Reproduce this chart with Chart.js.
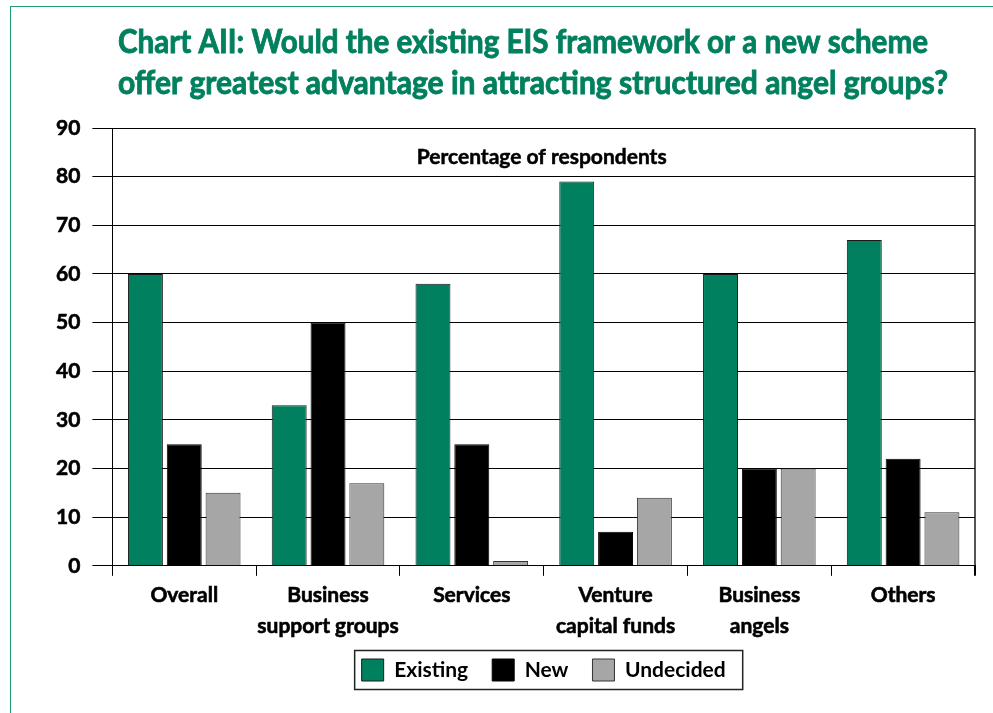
<!DOCTYPE html>
<html lang="en">
<head>
    <meta charset="UTF-8">
    <title>Chart AII</title>
    <script src="https://cdn.jsdelivr.net/npm/chart.js"></script>
    <style>
        body {
            margin: 0;
            background-color: #fff;
        }

        .frame {
            position: absolute;
            left: 10px;
            top: 6px;
            right: 0;
            bottom: 0;
            border-left: 1px solid #1f9c6e;
            border-top: 1px solid #1f9c6e;
        }

        canvas {
            position: absolute;
            left: 0;
            top: 0;
        }
    </style>
</head>
<body>
    <div class="frame"></div>
    <canvas id="grafico" width="993" height="713"></canvas>

    <script>
        var titulo = [
            'Chart AII: Would the existing EIS framework or a new scheme',
            'offer greatest advantage in attracting structured angel groups?'
        ];
        var larguraTitulo = [810, 830];
        var subtitulo = 'Percentage of respondents';

        var categorias = [
            ['Overall'],
            ['Business', 'support groups'],
            ['Services'],
            ['Venture', 'capital funds'],
            ['Business', 'angels'],
            ['Others']
        ];
        var existente = [60, 33, 58, 79, 60, 67];
        var novo = [25, 50, 25, 7, 20, 22];
        var indeciso = [15, 17, 1, 14, 20, 11];

        var escalaMin = 0;
        var escalaMax = 90;
        var escalaPasso = 10;

        var verde = '#00805e';
        var fonte = { family: 'Lato', weight: 'bold', size: 21 };

        var pluginTitulo = {
            id: 'titulo',
            afterLayout: function (chart) {
                // sobe a legenda para perto dos rotulos do eixo x
                chart.legend.top -= 11;
                chart.legend.bottom -= 11;
            },
            afterDraw: function (chart) {
                var ctx = chart.ctx;

                // titulo em duas linhas, comprimido na horizontal
                ctx.save();
                ctx.font = 'bold 33px Lato';
                ctx.fillStyle = verde;
                ctx.strokeStyle = verde;
                ctx.lineWidth = 0.9;
                ctx.textAlign = 'left';
                ctx.textBaseline = 'alphabetic';
                var bases = [53, 94];
                for (var i = 0; i < titulo.length; i++) {
                    var fator = larguraTitulo[i] / ctx.measureText(titulo[i]).width;
                    ctx.save();
                    ctx.translate(118, 0);
                    ctx.scale(fator, 1);
                    ctx.fillText(titulo[i], 0, bases[i]);
                    ctx.strokeText(titulo[i], 0, bases[i]);
                    ctx.restore();
                }
                ctx.restore();

                // texto dentro da area do grafico
                var area = chart.chartArea;
                ctx.save();
                ctx.font = 'bold 21px Lato';
                ctx.fillStyle = '#000';
                ctx.strokeStyle = '#000';
                ctx.lineWidth = 0.5;
                ctx.textAlign = 'center';
                ctx.fillText(subtitulo, (area.left + area.right) / 2 - 2, area.top + 29);
                ctx.strokeText(subtitulo, (area.left + area.right) / 2 - 2, area.top + 29);
                ctx.restore();

                // moldura da legenda
                var caixas = chart.legend.legendHitBoxes;
                if (caixas && caixas.length) {
                    var prim = caixas[0];
                    var ult = caixas[caixas.length - 1];
                    var x0 = prim.left - 7;
                    var x1 = ult.left + ult.width + 17;
                    var cy = prim.top + prim.height / 2;
                    ctx.save();
                    ctx.strokeStyle = '#222';
                    ctx.lineWidth = 1.5;
                    ctx.strokeRect(x0, cy - 19.5, x1 - x0, 39);
                    ctx.restore();
                }
            }
        };

        var contexto = document.getElementById('grafico').getContext('2d');
        var grafico = new Chart(contexto, {
            type: 'bar',
            data: {
                labels: categorias,
                datasets: [
                    {
                        label: 'Existing',
                        data: existente,
                        backgroundColor: verde,
                        borderColor: '#1a1a1a',
                        borderWidth: 1
                    },
                    {
                        label: 'New',
                        data: novo,
                        backgroundColor: '#000',
                        borderColor: '#000',
                        borderWidth: 1
                    },
                    {
                        label: 'Undecided',
                        data: indeciso,
                        backgroundColor: '#a6a6a6',
                        borderColor: '#333',
                        borderWidth: 1
                    }
                ]
            },
            options: {
                responsive: false,
                animation: false,
                categoryPercentage: 0.81,
                barPercentage: 0.9,
                layout: {
                    padding: { top: 128, left: 44, right: 18, bottom: 11 }
                },
                plugins: {
                    tooltip: { enabled: false },
                    title: { display: false },
                    legend: {
                        position: 'bottom',
                        fullSize: false,
                        labels: {
                            boxWidth: 22,
                            boxHeight: 22,
                            padding: 24,
                            color: '#000',
                            font: fonte
                        }
                    }
                },
                scales: {
                    x: {
                        grid: {
                            offset: true,
                            drawOnChartArea: true,
                            // so a ultima linha (borda direita) aparece dentro da area
                            color: function (c) {
                                return c.type === 'scale' ? '#555' : 'rgba(0,0,0,0)';
                            },
                            lineWidth: function (c) {
                                return c.type === 'scale' ? 2 : 1;
                            },
                            tickColor: '#000',
                            tickLength: 10
                        },
                        border: { display: true, color: '#000', width: 1 },
                        ticks: {
                            autoSkip: false,
                            color: '#000',
                            textStrokeColor: '#000',
                            textStrokeWidth: 0.6,
                            padding: 4,
                            maxRotation: 0,
                            font: { family: 'Lato', weight: 'bold', size: 21, lineHeight: 1.48 }
                        }
                    },
                    y: {
                        min: escalaMin,
                        max: escalaMax,
                        grid: {
                            color: '#000',
                            lineWidth: 1,
                            tickLength: 20
                        },
                        border: { display: true, color: '#000', width: 1 },
                        ticks: {
                            stepSize: escalaPasso,
                            color: '#000',
                            textStrokeColor: '#000',
                            textStrokeWidth: 0.6,
                            padding: 12,
                            font: fonte
                        }
                    }
                }
            },
            plugins: [pluginTitulo]
        });
    </script>
</body>
</html>
